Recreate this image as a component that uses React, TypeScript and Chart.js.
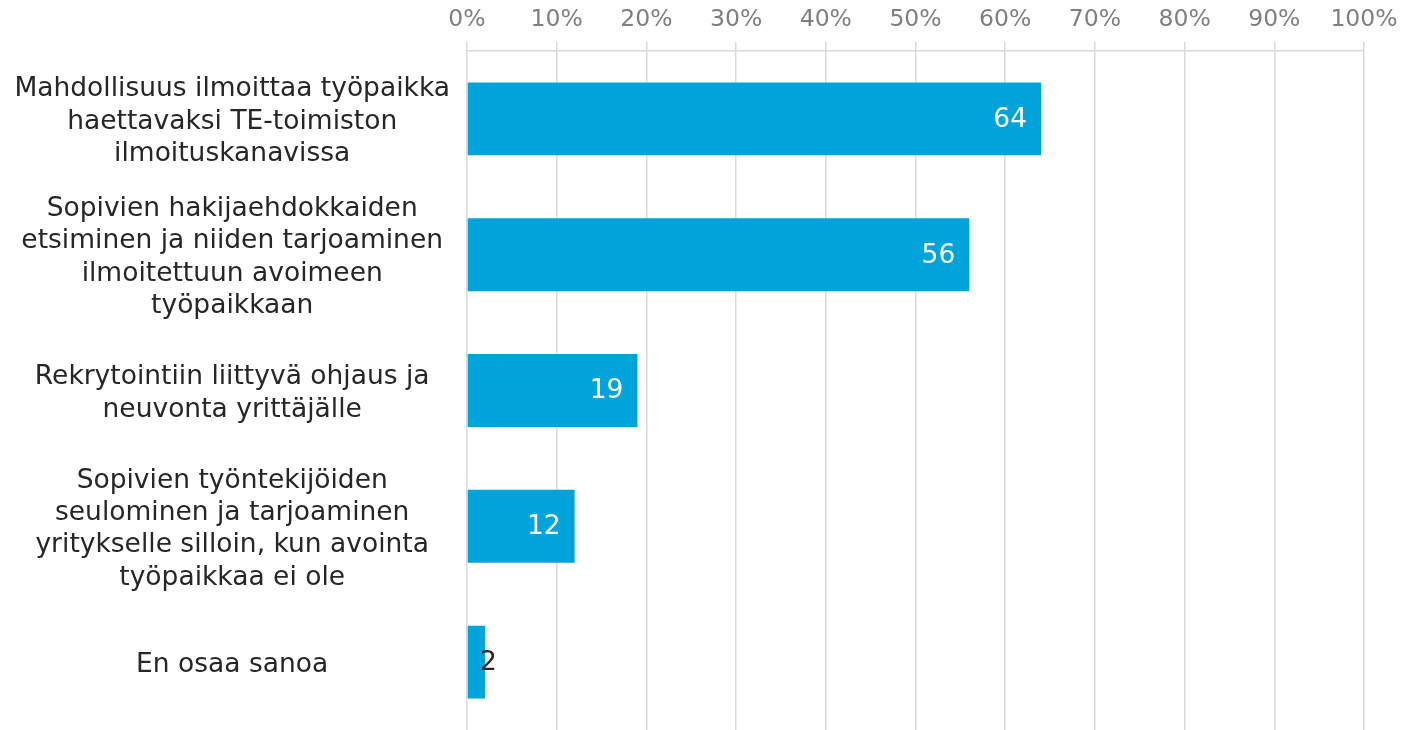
import React, { useEffect, useRef } from "react";
import { Chart, registerables } from "chart.js";

Chart.register(...registerables);

const categories: string[][] = [
  ["Mahdollisuus ilmoittaa työpaikka", "haettavaksi TE-toimiston", "ilmoituskanavissa"],
  ["Sopivien hakijaehdokkaiden", "etsiminen ja niiden tarjoaminen", "ilmoitettuun avoimeen", "työpaikkaan"],
  ["Rekrytointiin liittyvä ohjaus ja", "neuvonta yrittäjälle"],
  ["Sopivien työntekijöiden", "seulominen ja tarjoaminen", "yritykselle silloin, kun avointa", "työpaikkaa ei ole"],
  ["En osaa sanoa"],
];
const values: number[] = [64, 56, 19, 12, 2];
const tickValues: number[] = [0, 10, 20, 30, 40, 50, 60, 70, 80, 90, 100];

const FONT = "'DejaVu Sans', Verdana, sans-serif";
const BAR_COLOR = "#00A3DA";
const TEXT_DARK = "#262626";
const GRID = "#d9d9d9";

const labelPlugin = {
  id: "barValueLabels",
  afterDatasetsDraw(chart: any) {
    const ctx = chart.ctx;
    const meta = chart.getDatasetMeta(0);
    ctx.save();
    ctx.font = `26.5px ${FONT}`;
    ctx.textBaseline = "middle";
    meta.data.forEach((bar: any, i: number) => {
      const v = values[i];
      const text = String(v);
      const w = ctx.measureText(text).width;
      const barW = bar.x - bar.base;
      if (barW > w + 20) {
        ctx.fillStyle = "#ffffff";
        ctx.textAlign = "right";
        ctx.fillText(text, bar.x - 14, bar.y + 1);
      } else {
        ctx.fillStyle = TEXT_DARK;
        ctx.textAlign = "left";
        ctx.fillText(text, bar.x - 5, bar.y + 1);
      }
    });
    ctx.restore();
  },
};

export default function App() {
  const ref = useRef<HTMLCanvasElement | null>(null);
  useEffect(() => {
    document.body.style.margin = "0";
    if (!ref.current) return;
    const chart = new Chart(ref.current, {
      type: "bar",
      data: {
        labels: categories,
        datasets: [
          {
            data: values,
            backgroundColor: BAR_COLOR,
            borderWidth: 0,
            barPercentage: 1,
            categoryPercentage: 0.537,
          },
        ],
      },
      options: {
        indexAxis: "y",
        animation: false,
        responsive: false,
        maintainAspectRatio: false,
        layout: { padding: { top: -3, right: 39, bottom: 0, left: 0 } },
        plugins: {
          legend: { display: false },
          tooltip: { enabled: false },
        },
        scales: {
          x: {
            position: "top",
            min: 0,
            max: 100,
            afterBuildTicks: (scale: any) => {
              scale.ticks = tickValues.map((v) => ({ value: v }));
            },
            afterFit: (scale: any) => {
              scale.paddingLeft = 0;
              scale.paddingRight = 0;
            },
            ticks: {
              callback: (v: any) => `${v}%`,
              color: "#7f7f7f",
              font: { family: FONT, size: 23.5, lineHeight: 0.85 },
              padding: 12.5,
              maxRotation: 0,
              autoSkip: false,
            },
            grid: {
              color: GRID,
              lineWidth: 1.5,
              tickLength: 9,
              drawTicks: true,
            },
            border: { display: true, color: GRID, width: 1.5 },
          },
          y: {
            afterFit: (scale: any) => {
              scale.width = 467;
              scale.paddingTop = 0;
              scale.paddingBottom = 0;
            },
            ticks: {
              color: TEXT_DARK,
              font: { family: FONT, size: 26.5, lineHeight: 1.22 },
              crossAlign: "center",
              padding: 17,
              labelOffset: 3,
              autoSkip: false,
            },
            grid: { display: false, drawTicks: false },
            border: { display: false },
          },
        },
      },
      plugins: [labelPlugin],
    });
    return () => chart.destroy();
  }, []);
  return (
    <div style={{ width: 1403, height: 730 }}>
      <canvas ref={ref} width={1403} height={730} style={{ display: "block" }} />
    </div>
  );
}
